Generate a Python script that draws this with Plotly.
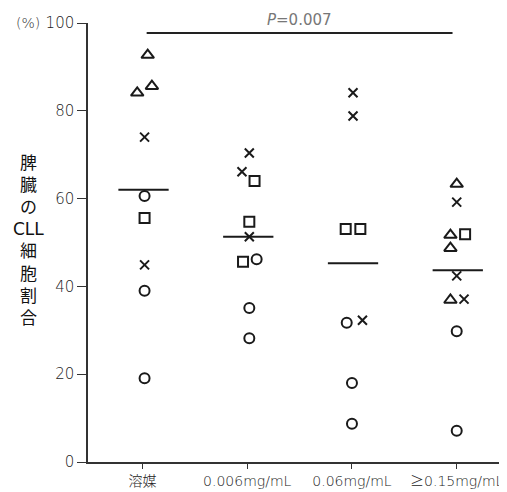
import plotly.graph_objects as go

categories = ["溶媒", "0.006mg/mL", "0.06mg/mL", "≥0.15mg/mL"]

# per-group values, marker shapes, small horizontal jitter (category units)
vals_g0 = [92.7, 84.1, 85.6, 74.0, 60.6, 55.6, 44.9, 39.0, 19.1]
shp_g0 = ["tri", "tri", "tri", "x", "circ", "sq", "x", "circ", "circ"]
jit_g0 = [0.05, -0.05, 0.09, 0.02, 0.02, 0.02, 0.02, 0.02, 0.02]

vals_g1 = [70.4, 66.1, 64.0, 54.7, 51.3, 45.6, 46.2, 35.1, 28.2]
shp_g1 = ["x", "x", "sq", "sq", "x", "sq", "circ", "circ", "circ"]
jit_g1 = [0.02, -0.05, 0.07, 0.02, 0.02, -0.04, 0.09, 0.02, 0.02]

vals_g2 = [84.1, 78.8, 53.1, 53.1, 31.7, 32.3, 18.0, 8.7]
shp_g2 = ["x", "x", "sq", "sq", "circ", "x", "circ", "circ"]
jit_g2 = [0.01, 0.01, -0.06, 0.08, -0.05, 0.1, 0.0, 0.0]

vals_g3 = [63.3, 59.2, 51.7, 51.9, 48.7, 42.4, 36.9, 37.1, 29.8, 7.1]
shp_g3 = ["tri", "x", "tri", "sq", "tri", "x", "tri", "x", "circ", "circ"]
jit_g3 = [0.0, 0.0, -0.06, 0.08, -0.06, 0.0, -0.06, 0.07, 0.0, 0.0]

means = [62.0, 51.3, 45.3, 43.7]
p_text = "<i>P</i>=0.007"
p_level = 97.7
y_ticks = [0, 20, 40, 60, 80, 100]
y_title = "脾<br>臓<br>の<br>CLL<br>細<br>胞<br>割<br>合"

groups = [(vals_g0, shp_g0, jit_g0), (vals_g1, shp_g1, jit_g1),
          (vals_g2, shp_g2, jit_g2), (vals_g3, shp_g3, jit_g3)]

sym = {"tri": ("triangle-up-open", 11), "x": ("x-thin-open", 9),
       "sq": ("square-open", 10), "circ": ("circle-open", 10)}
ink = "#1a1a1a"
txt_font = "DejaVu Sans, Noto Sans CJK JP"

fig = go.Figure()
for key, (symbol, size) in sym.items():
    xs, ys = [], []
    for gi, (vals, shps, jits) in enumerate(groups):
        for v, s, j in zip(vals, shps, jits):
            if s == key:
                xs.append(gi + j)
                ys.append(v)
    fig.add_trace(go.Scatter(
        x=xs, y=ys, mode="markers", cliponaxis=False, showlegend=False,
        marker=dict(symbol=symbol, size=size, color=ink,
                    line=dict(width=2, color=ink))))

# mean lines
for gi, m in enumerate(means):
    fig.add_trace(go.Scatter(
        x=[gi - 0.23, gi + 0.25], y=[m, m], mode="lines", showlegend=False,
        line=dict(color=ink, width=2)))

# significance line
fig.add_trace(go.Scatter(
    x=[0.04, 2.96], y=[p_level, p_level], mode="lines", showlegend=False,
    cliponaxis=False, line=dict(color="#222", width=2)))

fig.add_annotation(x=1.5, y=p_level, yshift=13, text=p_text, showarrow=False,
                   font=dict(size=15, color="#777", family=txt_font))
fig.add_annotation(xref="paper", yref="y", x=-0.143, y=100, text="(%)",
                   showarrow=False, xanchor="center",
                   font=dict(size=14, color="#333", family=txt_font, weight=300))
fig.add_annotation(xref="paper", yref="paper", x=-0.143, y=0.505,
                   text=y_title, showarrow=False, xanchor="center",
                   yanchor="middle", align="center",
                   font=dict(size=17, color="#111", family=txt_font))

fig.update_layout(
    width=499, height=484,
    margin=dict(l=80, r=0, t=15, b=30),
    paper_bgcolor="white", plot_bgcolor="white",
    font=dict(family=txt_font, color="#333"),
    xaxis=dict(range=[-0.52, 3.48], tickvals=[0, 1, 2, 3], ticktext=categories,
               showgrid=False, zeroline=False, showline=True,
               linecolor="#333", linewidth=1.5, ticks="outside", ticklen=5,
               tickcolor="#333",
               tickfont=dict(size=14, color="#222", weight=300)),
    yaxis=dict(range=[0, 100], tickvals=y_ticks, showgrid=False,
               zeroline=False, showline=True, linecolor="#333", linewidth=1.5,
               ticks="outside", ticklen=9, tickcolor="#333",
               tickfont=dict(size=15, color="#222", weight=300)),
)

fig.write_html("out.html")
